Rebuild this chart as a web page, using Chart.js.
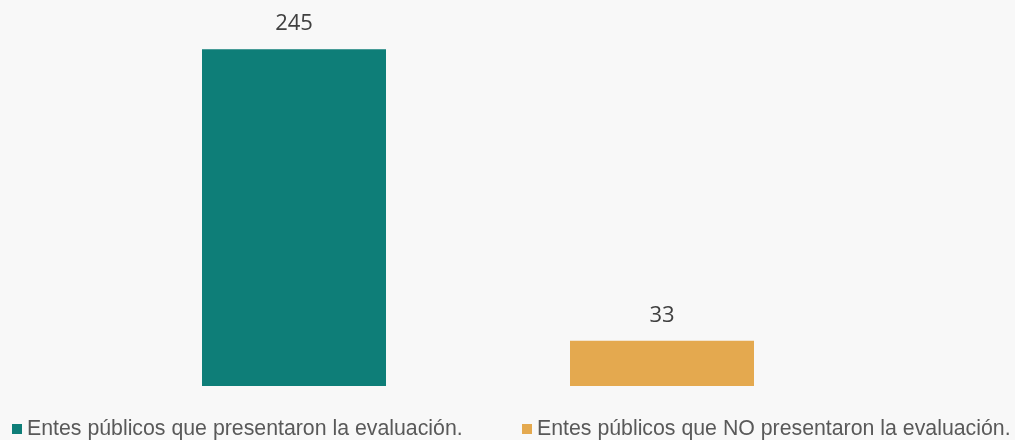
<!DOCTYPE html>
<html>
<head>
<meta charset="utf-8">
<script src="https://cdn.jsdelivr.net/npm/chart.js@4/dist/chart.umd.min.js"></script>
<style>
  body { margin: 0; background: #f8f8f8; }
  #wrap { position: relative; width: 1015px; height: 440px; }
  #legend div { position: absolute; top: 414px; font-family: "Liberation Sans", Arial, sans-serif; font-size: 21.3px; color: #595959; white-space: nowrap; line-height: 28px; }
  #legend span { display: inline-block; width: 10px; height: 10px; margin-right: 5px; vertical-align: 1px; }
</style>
</head>
<body>
<div id="wrap">
  <canvas id="chart" width="1015" height="440"></canvas>
  <div id="legend"></div>
</div>
<script>
// data
var categories = [''];
var seriesNames = ['Entes públicos que presentaron la evaluación.', 'Entes públicos que NO presentaron la evaluación.'];
var seriesValues = [245, 33];
var seriesColors = ['#0e7e78', '#e4a94f'];

// value labels above the bars
var valueLabels = {
  id: 'valueLabels',
  afterDatasetsDraw: function(chart) {
    var ctx = chart.ctx;
    ctx.save();
    ctx.font = '22px "Open Sans", sans-serif';
    ctx.fillStyle = '#404040';
    ctx.textAlign = 'center';
    ctx.textBaseline = 'alphabetic';
    chart.data.datasets.forEach(function(ds, i) {
      chart.getDatasetMeta(i).data.forEach(function(bar, j) {
        ctx.fillText(ds.data[j], bar.x, bar.y - 19);
      });
    });
    ctx.restore();
  }
};

var datasets = [];
for (var i = 0; i < seriesNames.length; i++) {
  datasets.push({
    label: seriesNames[i],
    data: [seriesValues[i]],
    backgroundColor: seriesColors[i],
    categoryPercentage: 1,
    barPercentage: 0.5
  });
}

var chart = new Chart(document.getElementById('chart'), {
  type: 'bar',
  data: { labels: categories, datasets: datasets },
  options: {
    responsive: false,
    animation: false,
    layout: { padding: { left: 110, right: 169, top: 1, bottom: 54 } },
    scales: {
      x: { display: false },
      y: { display: false, min: 0, max: 280 }
    },
    plugins: { legend: { display: false }, tooltip: { enabled: false } }
  },
  plugins: [valueLabels]
});

// legend built from the chart's datasets
var legendLeft = [12, 522];
var legend = document.getElementById('legend');
chart.data.datasets.forEach(function(ds, i) {
  var item = document.createElement('div');
  item.style.left = legendLeft[i] + 'px';
  item.innerHTML = '<span style="background:' + ds.backgroundColor + '"></span>' + ds.label;
  legend.appendChild(item);
});
</script>
</body>
</html>
